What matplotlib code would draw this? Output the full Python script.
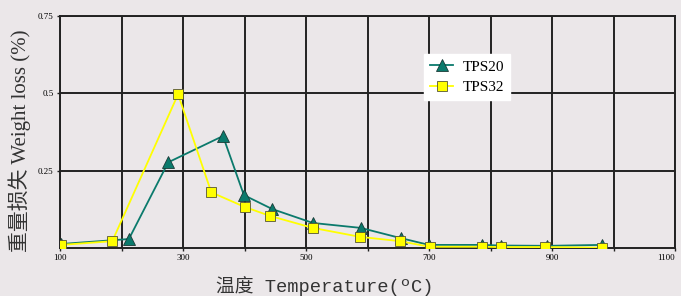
import matplotlib
matplotlib.use('Agg')
import matplotlib.pyplot as plt

# TPS20 (triangles)
tps20_temp = [102, 212, 276, 365, 399, 445, 511, 589, 654, 700, 786, 817, 892, 981]
tps20_loss = [0.013, 0.029, 0.277, 0.362, 0.171, 0.126, 0.081, 0.065, 0.032, 0.010, 0.010, 0.008, 0.007, 0.010]

# TPS32 (squares)
tps32_temp = [102, 185, 292, 346, 400, 441, 511, 588, 653, 701, 786, 817, 889, 981]
tps32_loss = [0.010, 0.022, 0.497, 0.180, 0.133, 0.104, 0.065, 0.036, 0.022, 0.004, 0.004, 0.003, 0.003, 0.001]

xticks = [100, 300, 500, 700, 900, 1100]
yticks = [0.25, 0.5, 0.75]
ytick_labels = ['0.25', '0.5', '0.75']

bg = '#ebe7e9'
teal = '#0b7a6c'
yellow = '#ffff00'

fig = plt.figure(figsize=(6.81, 2.96), dpi=100, facecolor=bg)
ax = fig.add_axes([60/681, 48/296, 615/681, 232/296])
ax.set_facecolor(bg)

ax.plot(tps20_temp, tps20_loss, color=teal, lw=1.3, marker='^', ms=8,
        mfc=teal, mec='#1a3a36', mew=0.6, label='TPS20', zorder=3)
ax.plot(tps32_temp, tps32_loss, color=yellow, lw=1.3, marker='s', ms=7,
        mfc=yellow, mec='#555533', mew=0.6, label='TPS32', zorder=4)

ax.set_xlim(100, 1100)
ax.set_ylim(0, 0.75)
ax.set_xticks(range(100, 1101, 100))
ax.set_xticklabels([str(v) if v in xticks else '' for v in range(100, 1101, 100)],
                   family='Liberation Serif', fontsize=6.5)
ax.get_xticklabels()[-1].set_horizontalalignment('right')
ax.set_yticks(yticks)
ax.set_yticklabels(ytick_labels, family='Liberation Serif', fontsize=6.5)
ax.tick_params(length=2.5, width=1, color='#222222', pad=2)
ax.grid(True, color='#222222', lw=1.4)
for s in ax.spines.values():
    s.set_color('#222222')
    s.set_linewidth(1.4)

leg = ax.legend(loc='upper left', bbox_to_anchor=(0.58, 0.87), frameon=True,
                fancybox=False, framealpha=1, edgecolor='white',
                prop={'family': 'Liberation Serif', 'size': 11},
                handlelength=1.5, borderpad=0.4, labelspacing=0.45, handletextpad=0.6)

fig.text(20/681, 0.525, '重量损失 Weight loss (%)', rotation=90, ha='center', va='center',
         family=['Liberation Serif', 'Noto Sans CJK SC'], fontsize=15, color='#333333')
fig.text(325/681, 10/296, '温度 Temperature(ºC)', ha='center', va='center',
         family=['Liberation Mono', 'Noto Sans CJK SC'], fontsize=13.5, color='#333333')

fig.savefig('out.png', dpi=100, facecolor=bg)
